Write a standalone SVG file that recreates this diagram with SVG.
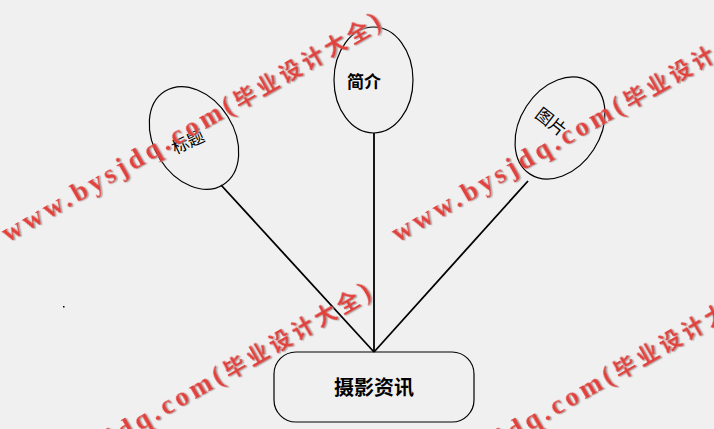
<svg xmlns="http://www.w3.org/2000/svg" width="714" height="429" viewBox="0 0 714 429">
<defs>
<style>
.shape{fill:none;stroke:#000;stroke-width:1.2}
.conn{stroke:#000;stroke-width:1.8;fill:none}
.lbl{font-family:"Liberation Serif","Noto Sans CJK SC",serif;font-size:17px;fill:#000;text-anchor:middle}
.bold{font-weight:bold;font-family:"Noto Sans CJK SC",sans-serif}
.wm{font-family:"Liberation Serif","Noto Sans CJK SC",serif;font-weight:bold;font-size:27px;letter-spacing:4.1px;fill:#e2403a;filter:url(#sh)}
.cj{font-size:22px}
</style>
<filter id="sh" x="-5%" y="-20%" width="110%" height="140%">
<feDropShadow dx="1.2" dy="1.2" stdDeviation="0.6" flood-color="#999" flood-opacity="0.8"/>
</filter>
</defs>
<rect width="714" height="429" fill="#f0f0f0"/>
<g id="connectors">
<line class="conn" x1="221" y1="185" x2="374" y2="352"/>
<line class="conn" x1="374" y1="133" x2="374" y2="352"/>
<line class="conn" x1="528" y1="181" x2="374" y2="352"/>
</g>
<g id="node-title">
<ellipse class="shape" cx="194" cy="138" rx="40" ry="55" transform="rotate(-32 194 138)"/>
<text class="lbl" x="188" y="148" transform="rotate(-25 188 142)">标题</text>
</g>
<g id="node-intro">
<ellipse class="shape" cx="373.5" cy="80" rx="39.5" ry="53"/>
<text class="lbl bold" x="364" y="88">简介</text>
</g>
<g id="node-picture">
<ellipse class="shape" cx="560" cy="128" rx="40" ry="55" transform="rotate(33 560 128)"/>
<text class="lbl" x="551" y="128" transform="rotate(38 551 122)">图片</text>
</g>
<g id="node-entity">
<rect class="shape" x="274" y="352" width="200" height="70" rx="22"/>
<text class="lbl bold" x="374" y="395" style="font-size:20px">摄影资讯</text>
</g>
<rect x="63" y="306" width="1.5" height="1.5" fill="#000"/>
<g id="watermark">
<text class="wm" transform="translate(8 243) rotate(-30)">www.bysjdq.com(<tspan class="cj">毕业设计大全</tspan>)</text>
<text class="wm" transform="translate(398 243) rotate(-30)">www.bysjdq.com(<tspan class="cj">毕业设计大全</tspan>)</text>
<text class="wm" transform="translate(-2 513) rotate(-30)">www.bysjdq.com(<tspan class="cj">毕业设计大全</tspan>)</text>
<text class="wm" transform="translate(388 513) rotate(-30)">www.bysjdq.com(<tspan class="cj">毕业设计大全</tspan>)</text>
</g>
</svg>
